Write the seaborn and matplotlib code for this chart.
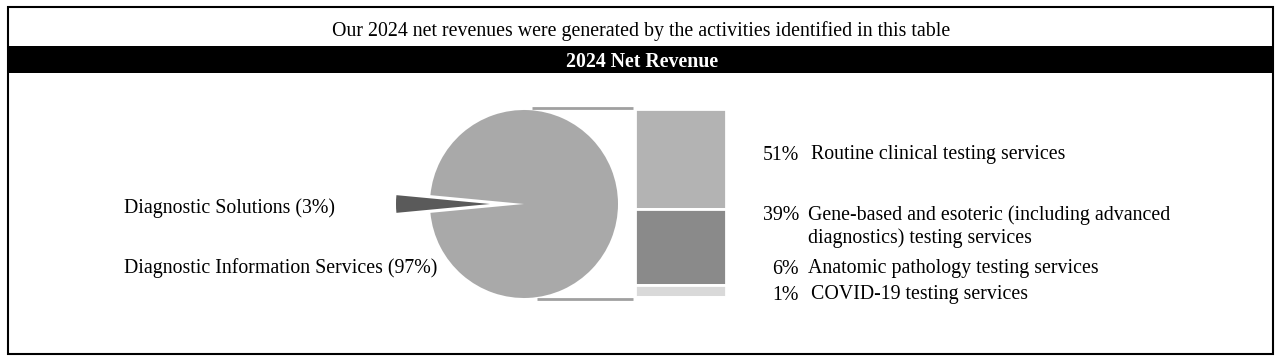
import matplotlib
matplotlib.use("Agg")
import matplotlib.pyplot as plt
import seaborn as sns
import numpy as np

# ---- data ----
title_text = "Our 2024 net revenues were generated by the activities identified in this table"
header_text = "2024 Net Revenue"
pie_labels = ["Diagnostic Solutions (3%)", "Diagnostic Information Services (97%)"]
pie_values = [3, 97]
bar_pcts = ["51%", "39%", "6%", "1%"]
bar_values = [51, 39, 6, 1]
bar_labels = ["Routine clinical testing services",
              "Gene-based and esoteric (including advanced\ndiagnostics) testing services",
              "Anatomic pathology testing services",
              "COVID-19 testing services"]

# ---- style ----
sns.set_theme(style="white")
plt.rcParams["font.family"] = ["Liberation Serif", "DejaVu Serif"]
plt.rcParams["text.color"] = "black"
FS = 14.3
DY = 2  # vertical text nudge

W, H = 1280, 362
fig = plt.figure(figsize=(W / 100, H / 100), dpi=100)
ax = fig.add_axes([0, 0, 1, 1])

# pie geometry (pixel coords)
cx, cy, r = 524, 204, 94
explode_px = 34
small_deg = pie_values[0] / sum(pie_values) * 360
wedges, _ = ax.pie(pie_values, colors=["#5a5a5a", "#a9a9a9"], center=(cx, cy), radius=r,
                   startangle=180 - small_deg / 2, explode=[explode_px, 0], frame=True,
                   wedgeprops=dict(linewidth=0))
ax.set_xlim(0, W)
ax.set_ylim(H, 0)
ax.set_aspect("equal")
ax.axis("off")

# frame and header
ax.add_patch(plt.Rectangle((8, 7), 1265, 347, fill=False, edgecolor="black", lw=1.5))
ax.add_patch(plt.Rectangle((8, 46), 1265, 27, facecolor="black", edgecolor="black", lw=0))
ax.text(641, 29 + DY, title_text, ha="center", va="center", fontsize=FS, color="black")
ax.text(642, 60 + DY, header_text, ha="center", va="center", fontsize=FS, color="white",
        fontweight="bold")

# left labels
ax.text(124, 206 + DY, pie_labels[0], ha="left", va="center", fontsize=FS, color="black")
ax.text(124, 266 + DY, pie_labels[1], ha="left", va="center", fontsize=FS, color="black")

# stacked bar
bx0, bx1, by0, by1 = 635, 726, 109, 299
bax = fig.add_axes([bx0 / W, 1 - by1 / H, (bx1 - bx0) / W, (by1 - by0) / H])
bottoms = np.concatenate([[0], np.cumsum(bar_values)[:-1]])
bax.bar([0] * len(bar_values), bar_values, bottom=bottoms, width=1.0,
        color=["#b3b3b3", "#8a8a8a", "#d9d9d9", "#ececec"], edgecolor="white", linewidth=2)
bax.set_xlim(-0.5, 0.5)
bax.set_ylim(sum(bar_values), 0)
bax.axis("off")

# connector lines
ax.plot([cx + 8, bx0 - 2], [by0 - 1.5, by0 - 1.5], color="#a0a0a0", lw=2, solid_capstyle="butt")
ax.plot([cx + 13, bx0 - 2], [by1, by1], color="#a0a0a0", lw=2, solid_capstyle="butt")

# right labels
ys = [153, 213, 267, 293]
xdesc = [811, 808, 808, 811]
for p, lab, y, xd in zip(bar_pcts, bar_labels, ys, xdesc):
    ax.text(799, y + DY, p, ha="right", va="center", fontsize=FS, color="black")
    for k, line in enumerate(lab.split("\n")):
        ax.text(xd, y + DY + 23 * k, line, ha="left", va="center", fontsize=FS, color="black")

fig.savefig("out.png", dpi=100)
